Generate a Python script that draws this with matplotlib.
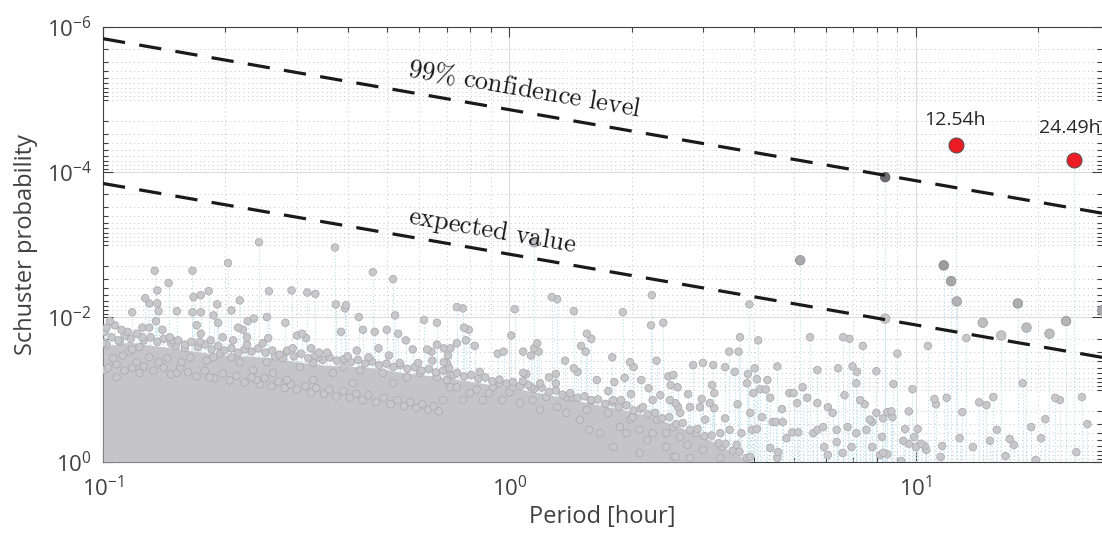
import numpy as np
import matplotlib
matplotlib.use("Agg")
import matplotlib.pyplot as plt
from matplotlib.ticker import FixedLocator, FixedFormatter, LogLocator, NullFormatter

# ---------------- data ----------------
line_period = [0.1, 28.68]
confidence_prob = [1.45e-6, 3.7e-4]
expected_prob = [1.44e-4, 3.6e-2]

peak_period = [12.54, 24.49]
peak_prob = [4.3e-5, 6.8e-5]
peak_label = ['12.54h', '24.49h']

# upper edge of the dense mass of overlapping points
core_period = [0.1, 0.104, 0.1165, 0.1305, 0.150, 0.173, 0.200, 0.230, 0.265, 0.305,
               0.351, 0.405, 0.466, 0.537, 0.619, 0.713, 0.822, 0.947, 1.09, 1.256,
               1.446, 1.666, 1.92, 2.21, 2.55, 2.94, 3.38, 3.90]
core_prob_top = [0.0178, 0.0245, 0.0222, 0.0245, 0.0269, 0.0305, 0.0336, 0.0347, 0.0369, 0.042,
                 0.0461, 0.0476, 0.0507, 0.0576, 0.0633, 0.0697, 0.079, 0.0898, 0.102, 0.119,
                 0.140, 0.164, 0.192, 0.232, 0.31, 0.425, 0.64, 1.0]

# (period [h], Schuster probability) of individually visible points
pts_upper_left = [
    (0.242, 9.3e-4), (0.203, 1.8e-3), (0.134, 2.3e-3), (0.166, 2.3e-3), (0.145, 3.4e-3),
    (0.136, 4.3e-3), (0.127, 5.5e-3), (0.130, 6.5e-3), (0.136, 6.5e-3), (0.137, 8.3e-3),
    (0.118, 8.6e-3), (0.152, 8.3e-3), (0.167, 5.3e-3), (0.174, 5.0e-3), (0.166, 8.6e-3),
    (0.174, 8.6e-3), (0.182, 4.4e-3), (0.191, 6.7e-3), (0.187, 9.5e-3), (0.207, 8.1e-3),
    (0.217, 5.9e-3), (0.256, 4.4e-3), (0.291, 4.3e-3), (0.318, 4.6e-3), (0.333, 4.8e-3),
    (0.372, 1.1e-3), (0.374, 6.7e-3), (0.396, 6.9e-3), (0.394, 7.6e-3), (0.461, 2.4e-3),
    (0.517, 3.0e-3), (0.523, 9.5e-3), (0.426, 1.0e-2), (0.253, 1.0e-2), (0.235, 1.05e-2),
    (0.616, 1.1e-2), (0.663, 1.2e-2), (0.281, 1.2e-2), (0.227, 1.14e-2),
    (0.104, 1.14e-2), (0.102, 1.4e-2), (0.107, 1.3e-2), (0.111, 1.5e-2), (0.115, 1.6e-2),
    (0.125, 1.4e-2), (0.130, 1.4e-2), (0.135, 1.14e-2), (0.140, 1.5e-2), (0.125, 1.9e-2),
    (0.146, 1.9e-2), (0.170, 1.3e-2), (0.174, 1.7e-2), (0.184, 2.1e-2), (0.192, 1.2e-2),
    (0.197, 1.9e-2), (0.215, 1.4e-2), (0.221, 1.5e-2), (0.226, 1.9e-2), (0.209, 2.1e-2),
    (0.247, 2.3e-2), (0.255, 1.95e-2), (0.300, 1.8e-2), (0.309, 1.7e-2), (0.316, 1.95e-2),
    (0.325, 2.7e-2), (0.340, 3.1e-2), (0.356, 3.1e-2), (0.385, 1.6e-2), (0.400, 3.5e-2),
    (0.436, 1.5e-2), (0.466, 1.6e-2), (0.499, 1.5e-2), (0.532, 1.7e-2), (0.556, 2.1e-2),
    (0.578, 2.8e-2), (0.476, 2.7e-2), (0.505, 3.4e-2), (0.627, 2.8e-2), (0.643, 3.0e-2),
    (0.689, 2.7e-2), (0.663, 2.4e-2), (0.277, 3.7e-2), (0.284, 2.9e-2), (0.265, 3.5e-2),
    (0.293, 2.7e-2), (0.338, 3.6e-2), (0.226, 2.4e-2), (0.194, 3.2e-2), (0.173, 2.2e-2),
    (0.151, 2.5e-2), (0.148, 2.1e-2), (0.159, 2.7e-2), (0.118, 2.8e-2), (0.123, 2.6e-2),
    (0.102, 2.4e-2), (0.100, 2.3e-2), (0.110, 2.2e-2), (0.421, 2.9e-2), (0.450, 3.6e-2),
    (0.537, 4.3e-2), (0.596, 4.3e-2), (0.646, 4.0e-2), (0.701, 4.3e-2),
]

pts_dense_edge = [
    (0.101, 0.016), (0.105, 0.019), (0.109, 0.021), (0.113, 0.018), (0.117, 0.020),
    (0.121, 0.017), (0.126, 0.021), (0.131, 0.019), (0.136, 0.022), (0.141, 0.020),
    (0.147, 0.023), (0.153, 0.021), (0.159, 0.024), (0.165, 0.022), (0.171, 0.026),
    (0.178, 0.024), (0.185, 0.028), (0.192, 0.025), (0.199, 0.029), (0.207, 0.027),
    (0.215, 0.031), (0.223, 0.028), (0.232, 0.030), (0.241, 0.027), (0.251, 0.031),
    (0.261, 0.029), (0.272, 0.033), (0.283, 0.030), (0.295, 0.035), (0.307, 0.032),
    (0.320, 0.037), (0.333, 0.034), (0.347, 0.039), (0.361, 0.036), (0.376, 0.040),
    (0.391, 0.038), (0.407, 0.042), (0.424, 0.039), (0.441, 0.044), (0.459, 0.041),
    (0.478, 0.046), (0.498, 0.044), (0.518, 0.049), (0.539, 0.046), (0.561, 0.052),
    (0.584, 0.049), (0.608, 0.055), (0.633, 0.052), (0.659, 0.058), (0.686, 0.055),
    (0.714, 0.062), (0.743, 0.059), (0.773, 0.066), (0.805, 0.063), (0.838, 0.071),
    (0.872, 0.068), (0.908, 0.077), (0.945, 0.073), (0.984, 0.083), (1.02, 0.079),
    (1.06, 0.090), (1.11, 0.086), (1.15, 0.098), (1.20, 0.094), (1.25, 0.108),
    (1.30, 0.103), (1.35, 0.118), (1.41, 0.112), (1.47, 0.13), (1.53, 0.124),
    (1.59, 0.143), (1.65, 0.137), (1.72, 0.158), (1.79, 0.15), (1.86, 0.175),
    (1.94, 0.165), (2.02, 0.195), (2.10, 0.185), (2.19, 0.22), (2.28, 0.21),
    (2.37, 0.25), (2.47, 0.24), (2.57, 0.30), (2.67, 0.29), (2.78, 0.36),
    (2.90, 0.35), (3.02, 0.44), (3.14, 0.43), (3.27, 0.55), (3.40, 0.56),
    (3.54, 0.70), (3.68, 0.72), (3.83, 0.88),
]

pts_halo_left = [
    (0.101, 0.054), (0.106, 0.037), (0.112, 0.034), (0.116, 0.030), (0.121, 0.042),
    (0.130, 0.036), (0.137, 0.042), (0.144, 0.037), (0.156, 0.042), (0.164, 0.036),
    (0.180, 0.040), (0.187, 0.036), (0.207, 0.036), (0.217, 0.042), (0.234, 0.054),
    (0.253, 0.042), (0.262, 0.059), (0.305, 0.049), (0.329, 0.043), (0.368, 0.059),
    (0.390, 0.049), (0.429, 0.054), (0.488, 0.059), (0.559, 0.068), (0.602, 0.059),
    (0.663, 0.068), (0.701, 0.074), (0.517, 0.082), (0.412, 0.082), (0.329, 0.074),
    (0.284, 0.074), (0.239, 0.074), (0.183, 0.068), (0.152, 0.059), (0.123, 0.059),
    (0.108, 0.068),
    (0.103, 0.050), (0.108, 0.045), (0.113, 0.055), (0.118, 0.050), (0.126, 0.048),
    (0.133, 0.055), (0.141, 0.050), (0.147, 0.062), (0.155, 0.050), (0.162, 0.058),
    (0.170, 0.066), (0.178, 0.055), (0.188, 0.070), (0.197, 0.060), (0.205, 0.075),
    (0.213, 0.065), (0.223, 0.080), (0.232, 0.068), (0.243, 0.085), (0.250, 0.070),
    (0.260, 0.090), (0.270, 0.078), (0.280, 0.095), (0.290, 0.085), (0.300, 0.100),
    (0.315, 0.090), (0.325, 0.110), (0.335, 0.095), (0.350, 0.115), (0.360, 0.100),
    (0.375, 0.125), (0.390, 0.105), (0.405, 0.130), (0.420, 0.115), (0.435, 0.140),
    (0.450, 0.120), (0.470, 0.150), (0.490, 0.130), (0.510, 0.160), (0.530, 0.140),
    (0.550, 0.170), (0.570, 0.150), (0.590, 0.180), (0.610, 0.160), (0.630, 0.190),
    (0.650, 0.170), (0.670, 0.200),
]

pts_middle = [
    (1.15, 9.3e-4), (0.742, 7.3e-3), (0.768, 7.6e-3), (1.03, 7.8e-3), (1.27, 5.3e-3),
    (1.31, 5.7e-3), (1.44, 8.3e-3), (1.90, 8.6e-3), (2.24, 5.0e-3), (2.23, 1.3e-2),
    (2.39, 1.2e-2), (0.773, 1.4e-2), (0.794, 1.5e-2), (0.781, 2.1e-2), (0.742, 2.3e-2),
    (0.716, 2.7e-2), (0.706, 3.4e-2), (0.821, 2.5e-2), (1.01, 1.8e-2), (0.936, 3.2e-2),
    (0.967, 3.0e-2), (1.08, 3.0e-2), (1.17, 2.3e-2), (1.15, 2.7e-2), (1.18, 3.0e-2),
    (1.13, 3.4e-2), (1.37, 4.0e-2), (1.55, 1.7e-2), (1.59, 2.0e-2), (1.50, 2.5e-2),
    (1.54, 3.0e-2), (1.44, 5.1e-2), (1.47, 5.7e-2), (1.79, 3.6e-2), (1.98, 4.2e-2),
    (2.02, 4.9e-2), (2.30, 4.0e-2), (1.92, 6.9e-2), (1.81, 7.9e-2), (2.11, 7.4e-2),
    (2.46, 6.6e-2), (2.20, 9.6e-2), (2.49, 8.7e-2), (0.689, 4.2e-2), (0.710, 5.0e-2),
    (0.727, 6.3e-2), (0.845, 5.7e-2), (0.947, 8.2e-2), (1.08, 5.9e-2), (1.10, 6.1e-2),
    (1.08, 7.7e-2), (1.13, 9.3e-2), (1.19, 8.2e-2), (1.25, 6.8e-2), (1.30, 6.1e-2),
    (1.30, 8.2e-2), (1.38, 0.127), (1.43, 0.13), (1.64, 7.4e-2), (1.75, 0.105),
    (1.88, 0.14), (1.99, 0.116), (2.13, 0.175), (2.25, 0.14), (2.35, 0.12),
    (2.60, 0.175), (2.48, 0.14), (1.59, 0.14), (1.80, 0.14), (1.55, 0.19),
    (1.75, 0.21), (2.01, 0.24), (2.30, 0.26), (2.53, 0.33), (1.94, 0.40),
    (2.18, 0.50), (2.43, 0.62), (1.80, 0.62), (2.09, 0.75), (2.53, 0.85),
    (0.83, 0.10), (0.742, 0.093), (0.91, 0.093), (1.0, 0.109), (0.686, 0.14),
    (0.715, 0.093), (0.768, 0.14), (0.80, 0.112), (0.86, 0.14), (0.89, 0.112),
    (0.96, 0.14), (1.02, 0.093), (1.06, 0.154), (1.14, 0.14), (1.23, 0.127),
    (1.19, 0.19), (1.31, 0.175), (1.38, 0.21), (1.49, 0.26), (1.57, 0.36),
    (1.67, 0.40), (1.87, 0.33), (1.98, 0.26), (2.09, 0.36), (2.25, 0.40), (2.43, 0.40),
]

pts_right_middle = [
    (5.19, 1.65e-3), (3.89, 6.7e-3), (8.4, 1.05e-2), (3.69, 1.9e-2), (4.09, 2.1e-2),
    (5.49, 1.9e-2), (6.62, 1.9e-2), (6.86, 2.0e-2), (7.4, 2.5e-2), (3.47, 3.0e-2),
    (3.66, 3.0e-2), (2.83, 4.6e-2), (2.99, 4.3e-2), (3.17, 4.6e-2), (3.39, 4.9e-2),
    (4.56, 4.8e-2), (5.72, 5.4e-2), (6.43, 5.1e-2), (6.98, 4.8e-2), (7.99, 5.6e-2),
    (3.58, 5.7e-2), (4.01, 5.1e-2), (3.86, 6.1e-2), (4.06, 7.2e-2), (4.31, 7.4e-2),
    (3.84, 8.2e-2), (3.98, 0.112), (4.14, 0.099), (4.27, 0.10), (4.38, 0.13),
    (3.15, 8.7e-2), (3.19, 0.112), (2.75, 0.116), (2.59, 9.3e-2), (2.53, 6.3e-2),
    (2.97, 0.135), (4.88, 0.112), (5.0, 0.112), (5.26, 9.3e-2), (5.4, 0.13),
    (5.1, 0.154), (5.72, 0.154), (6.07, 0.175), (6.24, 0.21), (6.67, 0.12),
    (7.13, 8.2e-2), (7.29, 0.14), (7.48, 0.16), (7.16, 5.7e-2), (7.99, 0.21),
    (7.7, 0.26), (8.5, 0.205), (4.68, 0.186), (4.52, 0.28), (4.70, 0.28),
    (4.18, 0.24), (3.91, 0.21), (3.64, 0.16), (3.19, 0.18), (3.11, 0.154),
    (2.94, 0.175), (2.78, 0.175), (2.56, 0.154), (2.63, 0.21), (3.03, 0.26),
    (3.39, 0.25), (3.48, 0.36), (3.72, 0.40), (3.95, 0.36), (4.06, 0.35),
    (4.44, 0.28), (5.13, 0.39), (5.72, 0.36), (5.91, 0.33), (6.38, 0.36),
    (6.79, 0.33), (7.8, 0.28), (8.3, 0.25), (2.63, 0.45), (2.74, 0.58),
    (2.88, 0.40), (2.99, 0.68), (3.30, 0.40), (3.34, 0.62), (3.62, 0.58),
    (3.91, 0.85), (4.38, 0.64), (4.58, 0.73), (4.80, 0.47), (4.96, 0.39),
    (5.59, 0.40), (5.94, 0.62), (6.38, 0.53), (6.60, 0.75), (6.94, 0.62),
    (7.13, 0.40), (7.55, 0.36), (7.8, 0.62), (8.3, 0.75), (2.56, 0.85),
    (2.78, 0.88), (3.30, 0.88), (4.56, 0.88), (6.07, 0.80),
]

pts_far_right = [
    (8.4, 1.18e-4), (11.7, 1.94e-3), (12.2, 3.2e-3), (12.6, 6.1e-3), (17.8, 6.5e-3),
    (28.7, 8.1e-3), (14.6, 1.2e-2), (16.2, 1.8e-2), (18.7, 1.4e-2), (21.3, 1.7e-2),
    (23.4, 1.14e-2), (9.0, 3.2e-2), (10.7, 2.5e-2), (13.3, 1.95e-2),
    (8.8, 8.4e-2), (9.8, 9.9e-2), (8.7, 0.20), (8.75, 0.24), (9.6, 0.20),
    (9.4, 0.35), (10.1, 0.35), (8.25, 0.45), (9.9, 0.45), (9.3, 0.51),
    (9.6, 0.56), (10.0, 0.62), (10.3, 0.56), (10.5, 0.60), (10.6, 0.68),
    (8.16, 0.80), (8.5, 0.78), (9.2, 0.97), (11.1, 0.135), (11.2, 0.16),
    (11.9, 0.13), (13.0, 0.205), (14.3, 0.15), (14.9, 0.164), (15.5, 0.127),
    (15.8, 0.36), (12.8, 0.47), (11.6, 0.60), (11.5, 0.85), (13.8, 0.62),
    (15.2, 0.51), (17.0, 0.48), (17.4, 0.58), (16.6, 0.83), (18.3, 8.2e-2),
    (19.2, 0.33), (20.3, 0.47), (20.8, 0.256), (22.0, 0.13), (22.6, 0.14),
    (25.6, 0.127), (26.4, 0.30), (24.8, 0.73), (19.7, 0.94),
]

# ---------------- style ----------------
plt.rcParams['font.family'] = ['Open Sans', 'DejaVu Sans']
plt.rcParams['mathtext.fontset'] = 'custom'
plt.rcParams['mathtext.rm'] = 'Open Sans'
plt.rcParams['mathtext.it'] = 'Open Sans:italic'
plt.rcParams['mathtext.bf'] = 'Open Sans:bold'
plt.rcParams['mathtext.sf'] = 'Open Sans'

text_color = '#404040'
stem_color = '#bfe3ee'

fig = plt.figure(figsize=(11.02, 5.47), dpi=100)
ax = fig.add_axes([103 / 1102, 85 / 547, 999 / 1102, 435 / 547])
ax.set_xscale('log')
ax.set_yscale('log')
ax.set_xlim(line_period[0], line_period[1])
ax.set_ylim(1.0, 1e-6)

all_pts = (pts_upper_left + pts_dense_edge + pts_halo_left + pts_middle
           + pts_right_middle + pts_far_right)
period = np.array([p for p, _ in all_pts])
prob = np.array([q for _, q in all_pts])


def expected_at(x):
    return 10 ** np.interp(np.log10(x), np.log10(line_period), np.log10(expected_prob))


ratio = expected_at(period) / prob
order = np.argsort(ratio)
period, prob, ratio = period[order], prob[order], ratio[order]
sig = ratio >= 1.0
dia_px = np.where(sig, 9.5, 7.5)
sizes = (dia_px * 72 / 100) ** 2
level = np.clip(200 - 50 * np.log10(np.maximum(ratio, 1.0)), 110, 200) / 255
face = np.stack([level, level, np.minimum(level + 2 / 255, 1)], axis=1)
edge = face * 0.86

# stems
ax.vlines(period, prob, 1.0, colors=stem_color, linestyles=(0, (1.2, 1.8)),
          linewidth=0.8, zorder=2)
ax.vlines(peak_period, peak_prob, 1.0, colors=stem_color, linestyles=(0, (1.2, 1.8)),
          linewidth=0.8, zorder=2)

# dense mass of overlapping points
ax.fill_between(core_period, core_prob_top, 1.0, color='#c5c5c7', linewidth=0, zorder=2.6)

ax.scatter(period, prob, s=sizes, c=face, edgecolors=edge, linewidths=0.6, zorder=3)

# threshold lines
ax.plot(line_period, confidence_prob, color='#1a1a1a', lw=2.3, dashes=(7, 4.5), zorder=4)
ax.plot(line_period, expected_prob, color='#1a1a1a', lw=2.3, dashes=(7, 4.5), zorder=4)

# peaks
ax.scatter(peak_period, peak_prob, s=(15 * 0.72) ** 2, c='#ed1c24', edgecolors='#4d4d4d',
           linewidths=0.7, zorder=6)
for x, y, lab, dx, dy in zip(peak_period, peak_prob, peak_label, [-1, -3], [18, 23]):
    ax.annotate(lab, (x, y), xytext=(dx, dy), textcoords='offset points', ha='center',
                va='center', fontsize=14, color='#262626', zorder=7, annotation_clip=False)


def line_angle(ys):
    p1 = ax.transData.transform((line_period[0], ys[0]))
    p2 = ax.transData.transform((line_period[1], ys[1]))
    return np.degrees(np.arctan2(p2[1] - p1[1], p2[0] - p1[0]))


def line_at(x, ys):
    return 10 ** np.interp(np.log10(x), np.log10(line_period), np.log10(ys))


ang = line_angle(confidence_prob)
ax.annotate(r'$\mathrm{99\%\ confidence\ level}$', (1.09, line_at(1.09, confidence_prob)),
            xytext=(0, 16), textcoords='offset points', ha='center', va='center',
            rotation=ang, rotation_mode='anchor', fontsize=19, color='#1a1a1a',
            math_fontfamily='cm', zorder=7)
ax.annotate(r'$\mathrm{expected\ value}$', (0.906, line_at(0.906, expected_prob)),
            xytext=(0, 14.5), textcoords='offset points', ha='center', va='center',
            rotation=ang, rotation_mode='anchor', fontsize=19, color='#1a1a1a',
            math_fontfamily='cm', zorder=7)

# axes cosmetics
ax.xaxis.set_major_locator(FixedLocator([0.1, 1, 10]))
ax.xaxis.set_major_formatter(FixedFormatter([r'$10^{-1}$', r'$10^{0}$', r'$10^{1}$']))
ax.xaxis.set_minor_locator(LogLocator(base=10, subs=np.arange(2, 10), numticks=100))
ax.xaxis.set_minor_formatter(NullFormatter())
ax.yaxis.set_major_locator(FixedLocator([1e-6, 1e-4, 1e-2, 1.0]))
ax.yaxis.set_major_formatter(FixedFormatter([r'$10^{-6}$', r'$10^{-4}$', r'$10^{-2}$', r'$10^{0}$']))
ax.yaxis.set_minor_locator(LogLocator(base=10, subs=np.arange(1, 10), numticks=100))
ax.yaxis.set_minor_formatter(NullFormatter())

ax.set_axisbelow(True)
ax.grid(which='major', color='#dcdcdc', linewidth=0.8, linestyle='-', zorder=0)
ax.grid(which='minor', color='#c4c4c4', linewidth=0.7, linestyle=(0, (1, 3.5)), zorder=0)

ax.tick_params(which='both', direction='in', top=True, right=True, color=text_color,
               width=0.8, labelcolor=text_color, labelsize=16)
ax.tick_params(which='major', length=7)
ax.tick_params(which='minor', length=3.5)
ax.tick_params(axis='x', which='major', pad=10)
ax.tick_params(axis='y', which='major', pad=8)
for side in ['left', 'bottom', 'top']:
    ax.spines[side].set_color(text_color)
    ax.spines[side].set_linewidth(0.8)
ax.spines['right'].set_visible(False)

ax.set_xlabel('Period [hour]', fontsize=17, color=text_color, labelpad=3)
ax.set_ylabel('Schuster probability', fontsize=17, color=text_color, labelpad=6)

fig.savefig('out.png', dpi=100)
